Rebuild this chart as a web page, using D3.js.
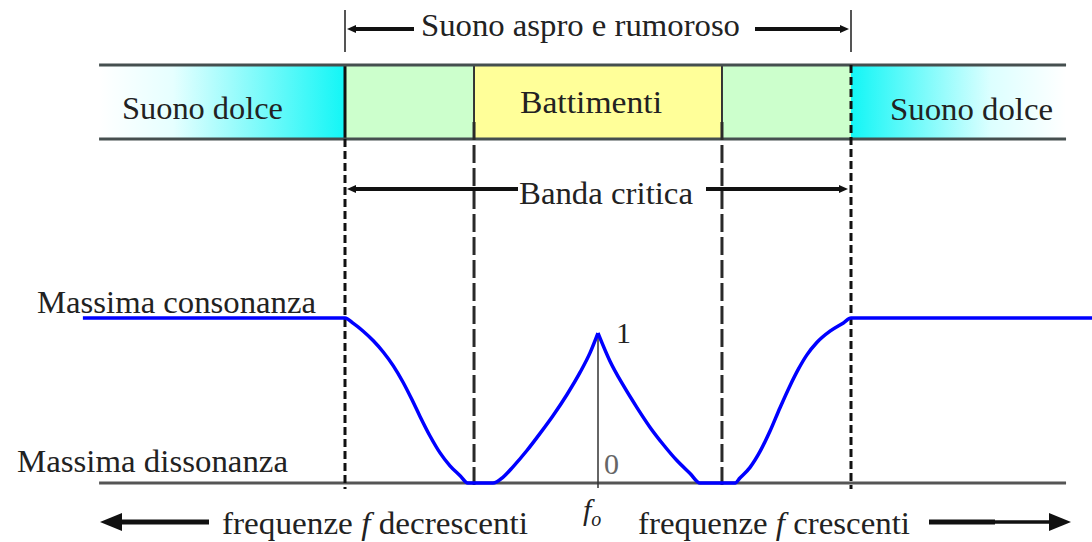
<!DOCTYPE html>
<html>
<head>
<meta charset="utf-8">
<script src="https://cdn.jsdelivr.net/npm/d3@7"></script>
<style>
  body { margin: 0; background: #fff; }
  text { font-family: "Liberation Serif", "Times New Roman", Tinos, "DejaVu Serif", serif; fill: #222; }
</style>
</head>
<body>
<div id="chart"></div>
<script>
// frequency offset from f0, in critical band half-widths
const bandEdges = [-1.972, -1, -0.49, 0.49, 1, 1.85]
const bandLabels = ["Suono dolce", "", "Battimenti", "", "Suono dolce"]
const bandKinds = ["sweetL", "rough", "beats", "rough", "sweetR"]

const criticalBand = [-1, 1]
const beatLimits = [-0.49, 0.49]

// consonance curve (1 = massima consonanza, 0 = massima dissonanza)
const curveFreq = [
  -2.036, -1.0, -0.967, -0.928, -0.888, -0.849, -0.809, -0.770, -0.736, -0.704,
  -0.664, -0.625, -0.585, -0.545, -0.515, -0.415, -0.375, -0.336, -0.281, -0.229,
  -0.178, -0.123, -0.071, -0.032, 0,
  0.047, 0.099, 0.154, 0.206, 0.257, 0.312, 0.364, 0.403, 0.542, 0.561,
  0.601, 0.640, 0.680, 0.719, 0.759, 0.792, 0.825, 0.864, 0.917, 0.970, 1.0, 1.953
]
const curveValue = [
  1, 1, 0.967, 0.92, 0.862, 0.794, 0.71, 0.609, 0.507, 0.405,
  0.285, 0.184, 0.104, 0.044, 0, 0, 0.036, 0.098, 0.197, 0.301,
  0.408, 0.535, 0.67, 0.787, 0.909,
  0.74, 0.594, 0.457, 0.337, 0.235, 0.136, 0.058, 0, 0, 0.03,
  0.095, 0.19, 0.315, 0.455, 0.59, 0.69, 0.775, 0.85, 0.92, 0.97, 1, 1
]

const width = 1092
const height = 542

const x = d3.scaleLinear().domain([-1, 1]).range([345, 851])
const y = d3.scaleLinear().domain([0, 1]).range([483, 318])

const bandTop = 65
const bandBottom = 139

const svg = d3.select("#chart").append("svg")
  .attr("width", width)
  .attr("height", height)

svg.append("rect").attr("width", width).attr("height", height).attr("fill", "#fff")

const defs = svg.append("defs")
const gl = defs.append("linearGradient").attr("id", "sweetL")
gl.append("stop").attr("offset", "0%").attr("stop-color", "#ffffff")
gl.append("stop").attr("offset", "30%").attr("stop-color", "#e6ffff")
gl.append("stop").attr("offset", "100%").attr("stop-color", "#12f6f6")
const gr = defs.append("linearGradient").attr("id", "sweetR")
gr.append("stop").attr("offset", "0%").attr("stop-color", "#12f6f6")
gr.append("stop").attr("offset", "65%").attr("stop-color", "#dcffff")
gr.append("stop").attr("offset", "100%").attr("stop-color", "#ffffff")

const fills = { sweetL: "url(#sweetL)", sweetR: "url(#sweetR)", rough: "#ccffcc", beats: "#ffff99" }

function arrowHead(g, tipX, tipY, dir, len, half) {
  g.append("path")
    .attr("d", `M${tipX},${tipY} L${tipX - dir * len},${tipY - half} L${tipX - dir * len},${tipY + half} Z`)
    .attr("fill", "#111")
}

// band segments
const segs = bandLabels.map((label, i) => ({ label, kind: bandKinds[i], x0: bandEdges[i], x1: bandEdges[i + 1] }))

svg.append("g").selectAll("rect")
  .data(segs)
  .enter()
  .append("rect")
  .attr("x", d => x(d.x0))
  .attr("y", bandTop)
  .attr("width", d => x(d.x1) - x(d.x0))
  .attr("height", bandBottom - bandTop)
  .attr("fill", d => fills[d.kind])

// segment borders inside band
svg.append("line")
  .attr("x1", x(criticalBand[0])).attr("x2", x(criticalBand[0]))
  .attr("y1", bandTop).attr("y2", bandBottom)
  .attr("stroke", "#111").attr("stroke-width", 3)
beatLimits.forEach(v => {
  svg.append("line")
    .attr("x1", x(v)).attr("x2", x(v))
    .attr("y1", bandTop).attr("y2", bandBottom)
    .attr("stroke", "#333").attr("stroke-width", 2)
})

// band top / bottom lines
;[bandTop, bandBottom].forEach(yy => {
  svg.append("line")
    .attr("x1", x(bandEdges[0])).attr("x2", x(bandEdges[bandEdges.length - 1]))
    .attr("y1", yy).attr("y2", yy)
    .attr("stroke", "#454f4f").attr("stroke-width", 3)
})

// baseline
svg.append("line")
  .attr("x1", x(bandEdges[0])).attr("x2", x(bandEdges[bandEdges.length - 1]))
  .attr("y1", y(0)).attr("y2", y(0))
  .attr("stroke", "#555").attr("stroke-width", 3)

// dashed guides: critical band edges
svg.append("line")
  .attr("x1", x(criticalBand[0])).attr("x2", x(criticalBand[0]))
  .attr("y1", bandBottom).attr("y2", y(0) + 6)
  .attr("stroke", "#111").attr("stroke-width", 3).attr("stroke-dasharray", "8,4")
svg.append("line")
  .attr("x1", x(criticalBand[1])).attr("x2", x(criticalBand[1]))
  .attr("y1", bandTop).attr("y2", y(0) + 6)
  .attr("stroke", "#111").attr("stroke-width", 3).attr("stroke-dasharray", "8,4")

// dashed guides: beats limits
beatLimits.forEach(v => {
  svg.append("line")
    .attr("x1", x(v)).attr("x2", x(v))
    .attr("y1", 122).attr("y2", y(0) + 4)
    .attr("stroke", "#2a2a2a").attr("stroke-width", 3).attr("stroke-dasharray", "18,5")
})

// f0 vertical
svg.append("line")
  .attr("x1", x(0)).attr("x2", x(0))
  .attr("y1", y(curveValue[curveFreq.indexOf(0)])).attr("y2", y(0) + 5)
  .attr("stroke", "#333").attr("stroke-width", 1.5)

// top annotation ticks
criticalBand.forEach(v => {
  svg.append("line")
    .attr("x1", x(v)).attr("x2", x(v))
    .attr("y1", 10).attr("y2", 52)
    .attr("stroke", "#555").attr("stroke-width", 2)
})

const ann = svg.append("g")
// Suono aspro arrows
ann.append("line").attr("x1", 414).attr("x2", x(-1) + 8).attr("y1", 29).attr("y2", 29).attr("stroke", "#111").attr("stroke-width", 4)
arrowHead(ann, x(-1) + 2, 29, -1, 9, 4)
ann.append("line").attr("x1", 755).attr("x2", x(1) - 8).attr("y1", 29).attr("y2", 29).attr("stroke", "#111").attr("stroke-width", 4)
arrowHead(ann, x(1) - 2, 29, 1, 9, 4)

// Banda critica arrows
ann.append("line").attr("x1", 518).attr("x2", x(-1) + 8).attr("y1", 189).attr("y2", 189).attr("stroke", "#111").attr("stroke-width", 4)
arrowHead(ann, x(-1) + 2, 189, -1, 9, 4)
ann.append("line").attr("x1", 706).attr("x2", x(1) - 8).attr("y1", 189).attr("y2", 189).attr("stroke", "#111").attr("stroke-width", 4)
arrowHead(ann, x(1) - 3, 189, 1, 9, 4)

// bottom direction arrows
ann.append("line").attr("x1", 209).attr("x2", 118).attr("y1", 522).attr("y2", 522).attr("stroke", "#111").attr("stroke-width", 5)
arrowHead(ann, 100, 522, -1, 22, 9)
ann.append("line").attr("x1", 929).attr("x2", 995).attr("y1", 522).attr("y2", 522).attr("stroke", "#111").attr("stroke-width", 5)
ann.append("line").attr("x1", 990).attr("x2", 1052).attr("y1", 522).attr("y2", 522).attr("stroke", "#111").attr("stroke-width", 3.5)
arrowHead(ann, 1071, 522, 1, 22, 9)

// consonance curve, split at the peak so that it stays sharp
const pts = curveFreq.map((f, i) => ({ f, v: curveValue[i] }))
const peak = curveFreq.indexOf(0)
const line = d3.line().x(d => x(d.f)).y(d => y(d.v)).curve(d3.curveMonotoneX)
svg.append("g").selectAll("path")
  .data([pts.slice(0, peak + 1), pts.slice(peak)])
  .enter()
  .append("path")
  .attr("d", line)
  .attr("fill", "none")
  .attr("stroke", "#0000ff")
  .attr("stroke-width", 3.5)
  .attr("stroke-linejoin", "round")

// labels
const labels = [
  { t: "Suono aspro e rumoroso", x: 421, y: 36, w: 319 },
  { t: bandLabels[0], x: 122, y: 119, w: 161 },
  { t: bandLabels[2], x: 520, y: 113, w: 142 },
  { t: bandLabels[4], x: 890, y: 120, w: 163 },
  { t: "Banda critica", x: 519, y: 204, w: 174 },
  { t: "Massima consonanza", x: 37, y: 313, w: 279 },
  { t: "Massima dissonanza", x: 17, y: 472, w: 271 }
]
svg.append("g").selectAll("text")
  .data(labels)
  .enter()
  .append("text")
  .attr("x", d => d.x)
  .attr("y", d => d.y)
  .attr("font-size", 31)
  .attr("textLength", d => d.w)
  .attr("lengthAdjust", "spacingAndGlyphs")
  .text(d => d.t)

svg.append("text").attr("x", 616).attr("y", 343).attr("font-size", 30).text("1")
svg.append("text").attr("x", 604).attr("y", 474).attr("font-size", 30).style("fill", "#666").text("0")

const f0 = svg.append("text").attr("x", 583).attr("y", 520).attr("font-size", 30)
f0.append("tspan").attr("font-style", "italic").text("f")
f0.append("tspan").attr("font-style", "italic").attr("font-size", 20).attr("dy", 6).text("o")

function freqLabel(xx, w, parts) {
  const t = svg.append("text").attr("x", xx).attr("y", 534).attr("font-size", 31)
    .attr("textLength", w).attr("lengthAdjust", "spacingAndGlyphs")
  t.append("tspan").text(parts[0])
  t.append("tspan").attr("font-style", "italic").text(parts[1])
  t.append("tspan").text(parts[2])
}
freqLabel(222, 306, ["frequenze ", "f", " decrescenti"])
freqLabel(638, 272, ["frequenze ", "f", " crescenti"])
</script>
</body>
</html>
